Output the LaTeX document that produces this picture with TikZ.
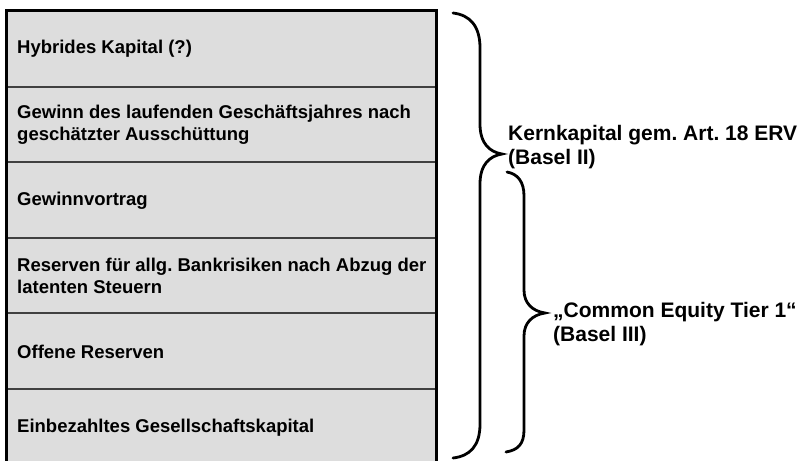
\documentclass[tikz,border=0pt]{standalone}
\usepackage{fontspec}
\setmainfont{Liberation Sans}
\begin{document}
\frenchspacing
\begin{tikzpicture}[x=1pt,y=-1pt,
  lbl/.style={anchor=west,inner sep=0pt,align=left,font=\bfseries\fontsize{18.5}{22}\selectfont},
  side/.style={anchor=west,inner sep=0pt,align=left,font=\bfseries\fontsize{21}{24}\selectfont},
  brace/.style={line width=2.8pt,line cap=round},
  divider/.style={line width=1.4pt,draw=black!75}]
\useasboundingbox (0,0) rectangle (810,460);
\fill[gray!27] (6,11) rectangle (436,466);
\foreach \y in {87,162,238,313,389} \draw[divider] (6,\y) -- (436,\y);
\draw[line width=3pt] (6,466) -- (6,11) -- (436,11) -- (436,466);
\node[lbl] (r1) at (17,49) {Hybrides Kapital (?)};
\node[lbl] (r2) at (17,125) {Gewinn des laufenden Geschäftsjahres nach\\geschätzter Ausschüttung};
\node[lbl] (r3) at (17,201) {Gewinnvortrag};
\node[lbl] (r4) at (17,276) {Reserven für allg. Bankrisiken nach Abzug der\\latenten Steuern};
\node[lbl] (r5) at (17,352) {Offene Reserven};
\node[lbl] (r6) at (17,428) {Einbezahltes Gesellschaftskapital};
\draw[brace] (453,13) .. controls (470,15) and (480,26) .. (480,48) -- (480,124)
  .. controls (480,144) and (490,152) .. (502,154)
  .. controls (490,156) and (480,164) .. (480,184) -- (480,424)
  .. controls (480,446) and (470,456) .. (453,458);
\draw[brace] (507,172) .. controls (518,174) and (524,182) .. (524,196) -- (524,290)
  .. controls (524,303) and (532,311) .. (545,313)
  .. controls (532,315) and (524,323) .. (524,336) -- (524,430)
  .. controls (524,444) and (518,450) .. (506,452);
\node[side] (k) at (508,147) {Kernkapital gem. Art. 18 ERV\\(Basel II)};
\node[side] (c) at (553,324) {„Common Equity Tier 1“\\(Basel III)};
\end{tikzpicture}
\end{document}
